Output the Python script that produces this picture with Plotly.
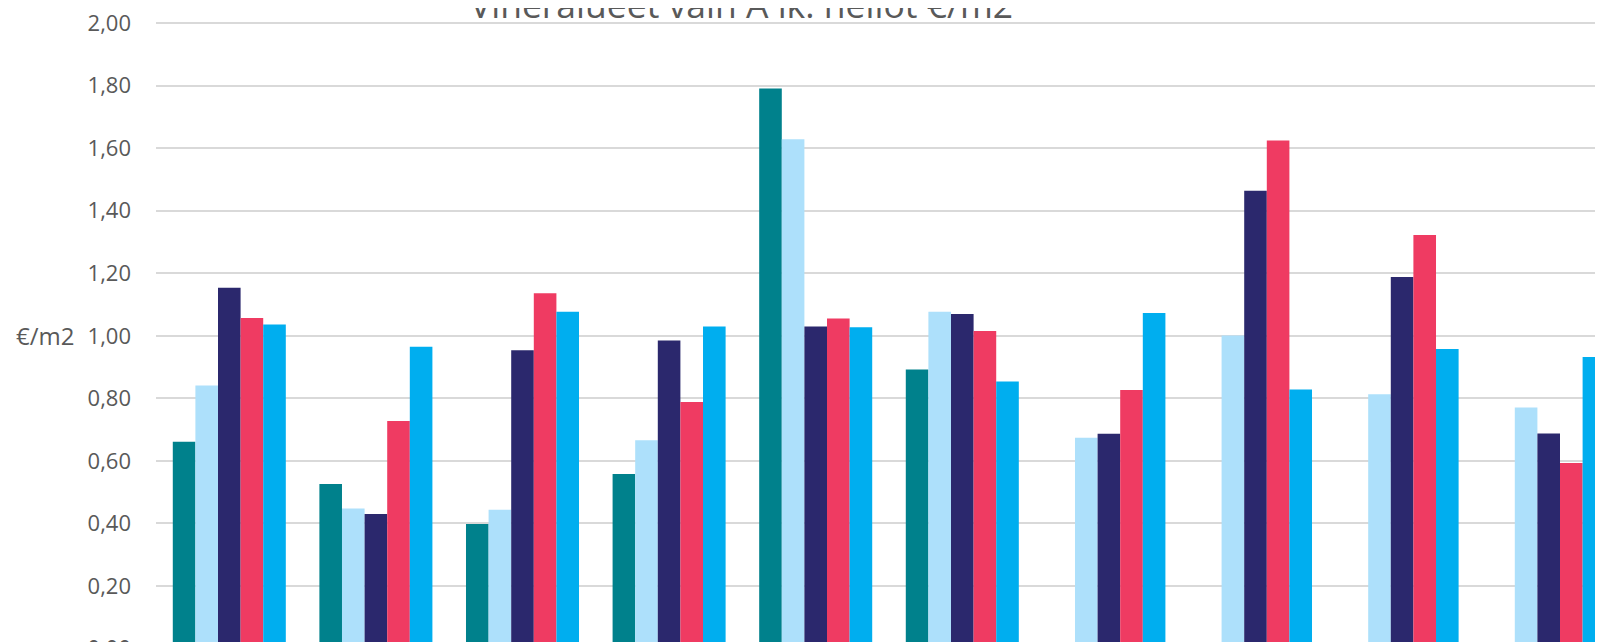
import plotly.graph_objects as go

categories = ["1", "2", "3", "4", "5", "6", "7", "8", "9", "10"]
series_names = ["Sarja 1", "Sarja 2", "Sarja 3", "Sarja 4", "Sarja 5"]
s1 = [0.661, 0.526, 0.398, 0.558, 1.791, 0.892, None, None, None, None]
s2 = [0.841, 0.448, 0.444, 0.666, 1.628, 1.077, 0.674, 1.001, 0.813, 0.771]
s3 = [1.154, 0.430, 0.954, 0.985, 1.030, 1.070, 0.687, 1.464, 1.188, 0.688]
s4 = [1.057, 0.728, 1.136, 0.788, 1.055, 1.015, 0.827, 1.624, 1.322, 0.593]
s5 = [1.036, 0.965, 1.077, 1.030, 1.027, 0.854, 1.073, 0.828, 0.958, 0.932]
colors = ["#00818C", "#ADE0FB", "#2B286D", "#EF3B62", "#00AEEF"]
title_text = "Viheralueet vain A lk. neliöt €/m2"
y_title = "€/m2"

fig = go.Figure()
for name, vals, c in zip(series_names, [s1, s2, s3, s4, s5], colors):
    fig.add_trace(go.Bar(x=categories, y=vals, name=name, marker_color=c,
                         marker_line_width=0))

# page body has an 8px margin; compensate so content lands where the reference has it
OFF = 8
PAD = 2  # extra px above the 2,00 gridline so it is drawn
W, H = 1603, 642
L, T = 156 - OFF, 23 - OFF - PAD
plot_w = W - L
plot_h = H - T
cat_px = 146.6
x_hi = -0.5 + plot_w / cat_px
px_per_unit = 312.8
y_hi = 2.0 + PAD / px_per_unit
y_lo = y_hi - plot_h / px_per_unit

font = "Open Sans, Noto Sans, sans-serif"
fig.update_layout(
    width=W, height=H,
    margin=dict(l=L, r=0, t=T, b=0, pad=0, autoexpand=False),
    paper_bgcolor="white", plot_bgcolor="white",
    barmode="group", bargap=0.229, bargroupgap=0,
    showlegend=False,
    separators=", ",
    font=dict(family=font, color="#595959", size=22),
    xaxis=dict(range=[-0.5, x_hi], showticklabels=False, showgrid=False,
               zeroline=False, showline=False, ticks="", automargin=False),
    yaxis=dict(range=[y_lo, y_hi], dtick=0.2, tick0=0, tickformat=".2f",
               showgrid=True, gridcolor="#D9D9D9", gridwidth=1.5,
               zeroline=False, showline=False, ticks="", automargin=False,
               ticklabelstandoff=24, ticklabeloverflow="allow",
               tickfont=dict(family=font, size=22, color="#595959")),
)
fig.add_annotation(text=title_text, xref="paper", yref="paper",
                   x=(741 - OFF - L) / plot_w,
                   y=1, yanchor="middle", xanchor="center", yshift=17, showarrow=False,
                   font=dict(family=font, size=35.5, color="#595959"))
fig.add_annotation(text=y_title, xref="paper", yref="paper", x=-(L - (14 - OFF)) / plot_w,
                   y=1 - (335.5 - OFF - T) / plot_h, xanchor="left", yanchor="middle",
                   showarrow=False, font=dict(family=font, size=24, color="#595959"))
fig.add_annotation(text="0,00", xref="paper", yref="paper", x=0,
                   y=-(648.2 - OFF - H) / plot_h, xanchor="right", yanchor="middle",
                   xshift=-24, showarrow=False,
                   font=dict(family=font, size=22, color="#595959"))
fig.write_html("out.html")
